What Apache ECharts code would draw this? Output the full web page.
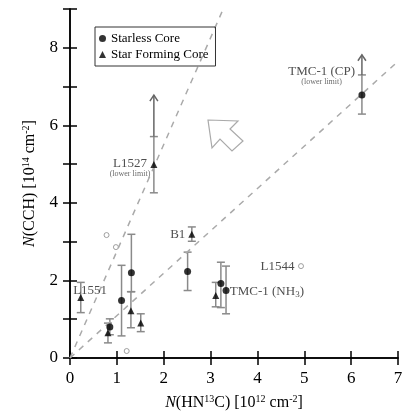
<!DOCTYPE html>
<html><head><meta charset="utf-8">
<script src="https://cdn.jsdelivr.net/npm/echarts@6/dist/echarts.min.js"></script>
<style>html,body{margin:0;padding:0;background:#fff}#c{width:410px;height:419px}</style>
</head><body><div id="c"></div>
<script>
// Starless cores (filled circles)
const starlessX  = [6.23, 2.51, 0.85, 1.10, 1.31, 3.22, 3.33];
const starlessY  = [6.78, 2.23, 0.80, 1.48, 2.20, 1.92, 1.74];
const starlessLo = [6.29, 1.74, 0.60, 0.57, 1.71, 1.30, 1.14];
const starlessHi = [7.30, 2.73, 1.01, 2.39, 3.19, 2.47, 2.37];
// Star forming cores (filled triangles)
const sfX  = [1.79, 2.60, 0.23, 0.81, 1.30, 1.51, 3.11];
const sfY  = [4.99, 3.19, 1.56, 0.65, 1.22, 0.90, 1.61];
const sfLo = [4.26, 3.01, 1.17, 0.39, 0.78, 0.68, 1.32];
const sfHi = [5.71, 3.38, 1.95, 0.90, 1.71, 1.14, 1.95];
// lower limits (arrows)
const limX    = [6.23, 1.79];
const limFrom = [7.30, 5.71];
const limTop  = [7.82, 6.78];
// open circles
const openX = [0.78, 0.98, 1.21, 4.93];
const openY = [3.17, 2.86, 0.18, 2.37];
// dashed lines
const steepLine   = [[0, 0], [3.27, 9]];
const shallowLine = [[0, 0], [7, 7.65]];
// text labels
const labelText = ['{a|L1527}\n{b|(lower limit)}', '{a|TMC-1 (CP)}\n{b|(lower limit)}', '{a|B1}', '{a|L1544}', '{a|TMC-1 (NH}{s|3}{a|)}', '{a|L1551}'];
const labelX = [1.28, 5.37, 2.30, 4.43, 3.41, 0.43];
const labelY = [4.91, 7.27, 3.19, 2.36, 1.71, 1.74];
const labelAlign = ['center', 'center', 'center', 'center', 'left', 'center'];
// axes
const xTicks = [0, 7, 1];
const yTicks = [0, 9, 1];

const FONT = 'Liberation Serif';
const chart = echarts.init(document.getElementById('c'));

const errData = [];
starlessX.forEach((x, i) => errData.push([x, starlessLo[i], starlessHi[i]]));
sfX.forEach((x, i) => errData.push([x, sfLo[i], sfHi[i]]));
const limData = limX.map((x, i) => [x, limFrom[i], limTop[i]]);

const axisCommon = {
  type: 'value',
  splitLine: { show: false },
  axisLine: { show: true, lineStyle: { color: '#000', width: 1.5 } },
  axisTick: { show: true, inside: false, length: -7, lineStyle: { color: '#000', width: 1.5 } },
};
const labelStyle = { color: '#000', fontFamily: FONT, fontSize: 17 };
const nameStyle = {
  fontFamily: FONT, fontSize: 16, color: '#000',
  rich: {
    i: { fontFamily: FONT, fontSize: 16, fontStyle: 'italic', color: '#000' },
    s: { fontFamily: FONT, fontSize: 10, color: '#000', verticalAlign: 'top', padding: [0, 0, 8, 0] }
  }
};

chart.setOption({
  animation: false,
  grid: { left: 70, right: 12, top: 9, bottom: 61 },
  legend: {
    left: 95, top: 27, orient: 'vertical', itemGap: 3,
    borderColor: '#333', borderWidth: 1, padding: [5, 7, 5, 4],
    itemWidth: 7, itemHeight: 7,
    textStyle: { fontFamily: FONT, fontSize: 13, color: '#000' },
    data: [{ name: 'Starless Core', icon: 'circle' }, { name: 'Star Forming Core', icon: 'triangle' }]
  },
  xAxis: [
    Object.assign({}, axisCommon, {
      min: xTicks[0], max: xTicks[1], interval: xTicks[2], position: 'bottom',
      axisLabel: Object.assign({ margin: 12 }, labelStyle),
      name: '{i|N}(HN{s|13}C) [10{s|12} cm{s|-2}]', nameLocation: 'middle', nameGap: 36,
      nameTextStyle: nameStyle
    }),
    Object.assign({}, axisCommon, {
      min: xTicks[0], max: xTicks[1], interval: xTicks[2], position: 'top',
      axisLabel: { show: false }
    })
  ],
  yAxis: [
    Object.assign({}, axisCommon, {
      min: yTicks[0], max: yTicks[1], interval: yTicks[2], position: 'left',
      axisLabel: Object.assign({ margin: 12, formatter: v => (v % 2 === 0 && v < 9 ? String(v) : '') }, labelStyle),
      name: '{i|N}(CCH) [10{s|14} cm{s|-2}]', nameLocation: 'middle', nameGap: 31, nameRotate: 90,
      nameTextStyle: nameStyle
    }),
    Object.assign({}, axisCommon, {
      min: yTicks[0], max: yTicks[1], interval: yTicks[2], position: 'right',
      axisLabel: { show: false }
    })
  ],
  graphic: [{
    type: 'polygon', z: 10,
    shape: { points: [[208, 120], [238, 121], [230, 129], [243, 141], [232, 151], [220, 139], [212, 148]] },
    style: { fill: '#fff', stroke: '#aaa', lineWidth: 1.2 }
  }],
  series: [
    { type: 'line', data: steepLine, symbol: 'none', silent: true,
      lineStyle: { color: '#aaa', width: 1.5, type: [6, 6] } },
    { type: 'line', data: shallowLine, symbol: 'none', silent: true,
      lineStyle: { color: '#aaa', width: 1.5, type: [6, 6] } },
    { type: 'custom', data: errData, silent: true,
      renderItem: (params, api) => {
        const x = api.value(0);
        const a = api.coord([x, api.value(1)]), b = api.coord([x, api.value(2)]);
        const st = { stroke: '#8a8a8a', lineWidth: 1.5 };
        return { type: 'group', children: [
          { type: 'line', shape: { x1: a[0], y1: a[1], x2: b[0], y2: b[1] }, style: st },
          { type: 'line', shape: { x1: a[0] - 4, y1: a[1], x2: a[0] + 4, y2: a[1] }, style: st },
          { type: 'line', shape: { x1: b[0] - 4, y1: b[1], x2: b[0] + 4, y2: b[1] }, style: st }
        ] };
      } },
    { type: 'custom', data: limData, silent: true,
      renderItem: (params, api) => {
        const x = api.value(0);
        const a = api.coord([x, api.value(1)]), b = api.coord([x, api.value(2)]);
        const st = { stroke: '#666', lineWidth: 1.5, fill: 'none' };
        return { type: 'group', children: [
          { type: 'line', shape: { x1: a[0], y1: a[1], x2: b[0], y2: b[1] }, style: st },
          { type: 'polyline', shape: { points: [[b[0] - 4, b[1] + 6], [b[0], b[1]], [b[0] + 4, b[1] + 6]] }, style: st }
        ] };
      } },
    { name: 'Starless Core', type: 'scatter', symbol: 'circle', symbolSize: 7,
      itemStyle: { color: '#000' }, data: starlessX.map((x, i) => [x, starlessY[i]]), z: 5 },
    { name: 'Star Forming Core', type: 'scatter', symbol: 'triangle', symbolSize: 7,
      itemStyle: { color: '#000' }, data: sfX.map((x, i) => [x, sfY[i]]), z: 5 },
    { type: 'scatter', symbol: 'circle', symbolSize: 5, silent: true,
      itemStyle: { color: '#fff', borderColor: '#888', borderWidth: 1 },
      data: openX.map((x, i) => [x, openY[i]]) },
    { type: 'scatter', symbolSize: 0, silent: true, z: 6,
      data: labelX.map((x, i) => ({
        value: [x, labelY[i]],
        label: {
          show: true, position: 'inside', align: labelAlign[i], verticalAlign: 'middle',
          formatter: labelText[i],
          rich: {
            a: { fontFamily: FONT, fontSize: 13, color: '#222', lineHeight: 12 },
            b: { fontFamily: FONT, fontSize: 8, color: '#444', lineHeight: 9 },
            s: { fontFamily: FONT, fontSize: 9, color: '#222', verticalAlign: 'bottom', padding: [6, 0, 0, 0] }
          }
        }
      })) }
  ]
});
</script></body></html>
